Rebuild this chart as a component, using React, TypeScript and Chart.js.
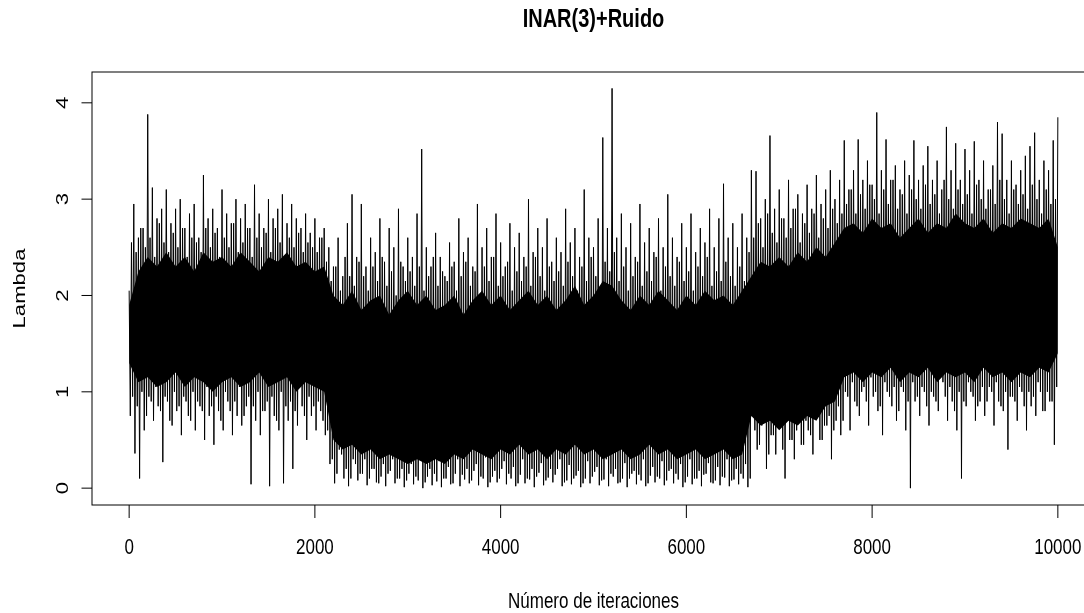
import React, { useEffect, useRef } from "react";
import { Chart, registerables } from "chart.js";

Chart.register(...registerables);

const titleText = "INAR(3)+Ruido";
const xTitle = "Número de iteraciones";
const yTitle = "Lambda";
const xTicks = [0, 2000, 4000, 6000, 8000, 10000];
const yTicks = [0, 1, 2, 3, 4];

// dense core of the trace, every 100 iterations (0 .. 10000)
const CORE_STEP = 100;
const coreHi = [
  1.9, 2.25, 2.4, 2.3, 2.45, 2.3, 2.4, 2.25, 2.45, 2.35,
  2.4, 2.3, 2.45, 2.35, 2.25, 2.4, 2.35, 2.45, 2.3, 2.35,
  2.25, 2.3, 2.0, 1.9, 2.05, 1.85, 1.95, 2.0, 1.8, 1.95,
  2.05, 1.9, 2.0, 1.85, 1.9, 2.0, 1.8, 1.95, 2.05, 1.9,
  2.0, 1.85, 1.95, 2.05, 1.9, 2.0, 1.85, 1.95, 2.1, 1.9,
  2.0, 2.15, 2.1, 1.95, 1.85, 2.0, 1.9, 2.05, 1.95, 1.85,
  2.0, 1.9, 2.05, 1.95, 2.0, 1.9, 2.05, 2.2, 2.35, 2.3,
  2.4, 2.3, 2.45, 2.35, 2.5, 2.4, 2.55, 2.7, 2.75, 2.65,
  2.8, 2.7, 2.75, 2.6, 2.7, 2.8, 2.65, 2.75, 2.7, 2.85,
  2.75, 2.7, 2.8, 2.65, 2.75, 2.7, 2.8, 2.75, 2.7, 2.8,
  2.5,
];
const coreLo = [
  1.3, 1.1, 1.15, 1.05, 1.1, 1.2, 1.05, 1.15, 1.1, 1.0,
  1.1, 1.15, 1.05, 1.1, 1.2, 1.05, 1.1, 1.15, 1.0, 1.1,
  1.05, 1.0, 0.5, 0.4, 0.45, 0.35, 0.4, 0.3, 0.35, 0.3,
  0.25, 0.3, 0.25, 0.3, 0.25, 0.35, 0.3, 0.4, 0.35, 0.3,
  0.4, 0.35, 0.45, 0.35, 0.4, 0.3, 0.4, 0.35, 0.45, 0.35,
  0.4, 0.3, 0.35, 0.4, 0.3, 0.35, 0.45, 0.35, 0.4, 0.3,
  0.35, 0.4, 0.3, 0.35, 0.4, 0.3, 0.35, 0.75, 0.65, 0.7,
  0.6, 0.7, 0.65, 0.75, 0.7, 0.85, 0.9, 1.15, 1.2, 1.1,
  1.2, 1.15, 1.25, 1.1, 1.2, 1.15, 1.25, 1.1, 1.2, 1.15,
  1.2, 1.1, 1.25, 1.15, 1.2, 1.1, 1.2, 1.15, 1.25, 1.2,
  1.4,
];

// large local maxima (iterations 0, 50, ..., 10000)
const traceHi = [
  2.05, 2.95, 2.6, 2.7, 3.88, 3.12, 2.8, 2.9, 3.1, 2.75,
  2.9, 3.0, 2.7, 2.85, 2.95, 2.6, 3.25, 2.8, 2.9, 2.7,
  3.1, 2.85, 2.75, 3.0, 2.8, 2.95, 2.7, 3.15, 2.85, 2.7,
  3.0, 2.8, 2.9, 3.05, 2.75, 2.95, 2.8, 2.7, 2.85, 2.65,
  2.8, 2.6, 2.7, 2.5, 2.3, 2.6, 2.2, 2.75, 3.05, 2.4,
  2.95, 2.3, 2.6, 2.45, 2.8, 2.35, 2.7, 2.5, 2.9, 2.3,
  2.6, 2.4, 2.85, 3.52, 2.5, 2.3, 2.65, 2.4, 2.2, 2.55,
  2.35, 2.8, 2.45, 2.6, 2.3, 2.95, 2.5, 2.7, 2.4, 2.85,
  2.55, 2.3, 2.75, 2.5, 2.65, 2.4, 3.0, 2.45, 2.7, 2.5,
  2.8, 2.35, 2.6, 2.45, 2.9, 2.55, 2.7, 2.4, 3.1, 2.6,
  2.5, 2.8, 3.64, 2.7, 4.15, 2.6, 2.85, 2.5, 2.75, 2.4,
  2.95, 2.55, 2.7, 2.45, 2.8, 2.5, 3.05, 2.6, 2.4, 2.75,
  2.5, 2.85, 2.45, 2.7, 2.55, 2.9, 2.5, 2.8, 3.16, 2.6,
  2.75, 2.5, 2.85, 2.6, 3.3, 3.29, 2.8, 3.0, 3.66, 2.9,
  3.1, 2.8, 3.2, 2.9, 3.05, 2.85, 3.15, 2.9, 3.25, 2.95,
  3.1, 3.3, 3.0, 3.2, 3.61, 3.1, 3.3, 3.62, 3.2, 3.4,
  3.15, 3.9, 3.3, 3.62, 3.2, 3.35, 3.1, 3.4, 3.25, 3.61,
  3.2, 3.35, 3.55, 3.2, 3.4, 3.1, 3.75, 3.3, 3.58, 3.2,
  3.52, 3.3, 3.6, 3.2, 3.4, 3.1, 3.35, 3.8, 3.68, 3.2,
  3.4, 3.15, 3.3, 3.45, 3.55, 3.69, 3.2, 3.4, 3.3, 3.61,
  3.85,
];
// large local minima (iterations 12.5, 62.5, ...)
const traceLo = [
  0.75, 0.36, 0.1, 0.6, 0.95, 0.7, 0.85, 0.27, 0.9, 0.65,
  0.8, 0.55, 0.9, 0.7, 0.6, 0.85, 0.5, 0.75, 0.45, 0.8,
  0.6, 0.9, 0.55, 0.75, 0.65, 0.85, 0.04, 0.7, 0.55, 0.8,
  0.02, 0.75, 0.6, 0.05, 0.7, 0.2, 0.65, 0.85, 0.5, 0.75,
  0.6, 0.8, 0.55, 0.25, 0.05, 0.4, 0.1, 0.02, 0.3, 0.08,
  0.15, 0.03, 0.2, 0.06, 0.12, 0.02, 0.18, 0.05, 0.1, 0.01,
  0.15, 0.04, 0.08, 0.0, 0.12, 0.03, 0.07, 0.01, 0.1, 0.04,
  0.15, 0.02, 0.09, 0.05, 0.18, 0.03, 0.1, 0.01, 0.12, 0.06,
  0.2, 0.04, 0.1, 0.02, 0.14, 0.05, 0.09, 0.01, 0.16, 0.03,
  0.11, 0.06, 0.2, 0.02, 0.08, 0.04, 0.13, 0.01, 0.1, 0.05,
  0.17, 0.03, 0.09, 0.02, 0.12, 0.05, 0.1, 0.01, 0.15, 0.04,
  0.08, 0.02, 0.13, 0.06, 0.1, 0.03, 0.18, 0.05, 0.09, 0.01,
  0.12, 0.04, 0.1, 0.02, 0.15, 0.06, 0.08, 0.03, 0.11, 0.02,
  0.09, 0.04, 0.1, 0.01, 0.8, 0.4, 0.65, 0.2, 0.55, 0.35,
  0.7, 0.1, 0.5, 0.3, 0.75, 0.45, 0.6, 0.35, 0.8, 0.5,
  0.65, 0.3, 0.7, 0.55, 1.0, 0.6, 0.9, 0.75, 1.05, 0.65,
  0.95, 0.8, 0.55, 1.0, 0.85, 0.7, 1.05, 0.6, 0.0, 0.9,
  0.75, 1.0, 0.65, 0.95, 0.8, 1.1, 0.7, 0.9, 0.6, 0.1,
  0.85, 1.0, 0.7, 0.9, 0.75, 1.05, 0.65, 0.9, 0.8, 0.4,
  0.95, 0.7, 1.0, 0.6, 0.85, 0.75, 1.0, 0.8, 0.9, 0.45,
];
// moderate local maxima (iterations 25, 75, ...)
const traceHi2 = [
  2.55, 2.45, 2.7, 2.5, 2.6, 2.4, 2.75, 2.55, 2.45, 2.65,
  2.5, 2.7, 2.4, 2.6, 2.55, 2.45, 2.7, 2.5, 2.65, 2.4,
  2.6, 2.5, 2.75, 2.45, 2.55, 2.7, 2.4, 2.6, 2.5, 2.65,
  2.45, 2.7, 2.55, 2.4, 2.6, 2.5, 2.65, 2.45, 2.55, 2.5,
  2.45, 2.6, 2.35, 2.15, 2.3, 2.05, 2.4, 2.2, 2.1, 2.35,
  2.2, 2.05, 2.3, 2.15, 2.4, 2.1, 2.25, 2.0, 2.35, 2.15,
  2.25, 2.1, 2.3, 2.05, 2.2, 2.4, 2.1, 2.25, 2.15, 2.3,
  2.05, 2.2, 2.35, 2.1, 2.25, 2.0, 2.3, 2.15, 2.4, 2.1,
  2.2, 2.35, 2.05, 2.25, 2.15, 2.3, 2.1, 2.4, 2.2, 2.05,
  2.3, 2.15, 2.25, 2.1, 2.35, 2.2, 2.05, 2.3, 2.15, 2.4,
  2.2, 2.1, 2.35, 2.25, 2.45, 2.15, 2.3, 2.05, 2.2, 2.35,
  2.1, 2.25, 2.15, 2.4, 2.05, 2.3, 2.2, 2.1, 2.35, 2.15,
  2.25, 2.05, 2.3, 2.2, 2.4, 2.1, 2.25, 2.15, 2.35, 2.2,
  2.1, 2.3, 2.15, 2.45, 2.6, 2.75, 2.5, 2.85, 2.65, 2.55,
  2.8, 2.6, 2.7, 2.9, 2.55, 2.75, 2.65, 2.85, 2.6, 2.8,
  2.7, 2.9, 2.75, 2.85, 2.95, 3.1, 2.85, 3.05, 2.9, 3.15,
  3.0, 2.85, 3.1, 2.95, 3.2, 2.9, 3.05, 2.85, 3.1, 3.0,
  2.9, 3.15, 2.95, 3.05, 2.85, 3.2, 3.0, 2.9, 3.1, 2.95,
  3.05, 2.85, 3.15, 3.0, 2.9, 3.1, 2.95, 3.2, 3.0, 2.85,
  3.1, 2.95, 3.05, 2.9, 3.15, 3.0, 2.85, 3.1, 2.95, 3.0,
];
// moderate local minima (iterations 37.5, 87.5, ...)
const traceLo2 = [
  0.95, 0.85, 1.0, 0.75, 0.9, 1.05, 0.8, 0.95, 0.7, 1.0,
  0.85, 0.95, 0.75, 1.0, 0.9, 0.8, 1.05, 0.85, 0.95, 0.7,
  1.0, 0.8, 0.9, 1.05, 0.75, 0.95, 0.85, 1.0, 0.8, 0.9,
  0.95, 0.7, 1.0, 0.85, 0.9, 0.8, 1.05, 0.75, 0.95, 0.85,
  0.9, 0.7, 0.6, 0.3, 0.15, 0.35, 0.2, 0.1, 0.25, 0.15,
  0.3, 0.1, 0.2, 0.05, 0.25, 0.15, 0.3, 0.1, 0.2, 0.08,
  0.25, 0.12, 0.3, 0.06, 0.2, 0.15, 0.28, 0.1, 0.22, 0.05,
  0.3, 0.14, 0.2, 0.08, 0.25, 0.12, 0.32, 0.06, 0.18, 0.1,
  0.28, 0.15, 0.22, 0.05, 0.3, 0.1, 0.2, 0.12, 0.26, 0.08,
  0.2, 0.14, 0.3, 0.06, 0.24, 0.1, 0.18, 0.05, 0.28, 0.12,
  0.22, 0.08, 0.3, 0.15, 0.2, 0.06, 0.26, 0.1, 0.18, 0.14,
  0.3, 0.05, 0.22, 0.12, 0.28, 0.08, 0.2, 0.15, 0.25, 0.06,
  0.3, 0.1, 0.18, 0.14, 0.26, 0.05, 0.22, 0.12, 0.3, 0.08,
  0.2, 0.15, 0.25, 0.1, 0.6, 0.45, 0.7, 0.35, 0.55, 0.65,
  0.4, 0.75, 0.5, 0.6, 0.45, 0.7, 0.55, 0.8, 0.5, 0.65,
  0.75, 0.6, 0.85, 0.7, 0.95, 1.1, 0.85, 1.0, 0.9, 1.15,
  1.0, 0.85, 1.1, 0.95, 1.05, 0.8, 1.0, 0.9, 1.1, 0.95,
  1.05, 0.85, 1.0, 0.9, 1.15, 0.95, 1.05, 0.8, 1.0, 0.9,
  1.1, 0.95, 0.85, 1.05, 0.9, 1.0, 1.1, 0.85, 1.0, 0.95,
  0.9, 1.05, 0.85, 1.0, 0.95, 1.1, 0.8, 1.0, 0.9, 1.05,
];
const HI_STEP = 50;

const W = 1100;
const H = 613;
const SY = 1.3; // vertical stretch of the text
const FONT = '"Liberation Sans", Arial, sans-serif';

function drawText(ctx: CanvasRenderingContext2D, text: string, x: number, y: number, font: string, rotate: boolean) {
  ctx.save();
  ctx.translate(x, y);
  ctx.scale(1, SY);
  if (rotate) ctx.rotate(-Math.PI / 2);
  ctx.font = font;
  ctx.fillStyle = "#000";
  ctx.textAlign = "center";
  ctx.textBaseline = "alphabetic";
  ctx.fillText(text, 0, 0);
  ctx.restore();
}

const rPlot = {
  id: "rplot",
  afterDraw(chart: any) {
    const { ctx, chartArea: a, scales } = chart;
    const x = scales.x;
    const y = scales.y;
    ctx.save();
    ctx.strokeStyle = "#000";
    ctx.lineWidth = 1;
    ctx.strokeRect(a.left, a.top, a.right - a.left, a.bottom - a.top);
    ctx.beginPath();
    for (const t of xTicks) {
      const px = x.getPixelForValue(t);
      ctx.moveTo(px, a.bottom);
      ctx.lineTo(px, a.bottom + 13);
    }
    for (const t of yTicks) {
      const py = y.getPixelForValue(t);
      ctx.moveTo(a.left, py);
      ctx.lineTo(a.left - 10.5, py);
    }
    ctx.stroke();
    const f = "17px " + FONT;
    for (const t of xTicks) drawText(ctx, String(t), x.getPixelForValue(t), a.bottom + 49, f, false);
    for (const t of yTicks) drawText(ctx, String(t), 67.5, y.getPixelForValue(t), f, true);
    drawText(ctx, titleText, (a.left + a.right) / 2, 26.7, "bold 20px " + FONT, false);
    drawText(ctx, xTitle, (a.left + a.right) / 2, a.bottom + 103, f, false);
    drawText(ctx, yTitle, 25, (a.top + a.bottom) / 2, f, true);
    ctx.restore();
  },
};

export default function App() {
  const ref = useRef<HTMLCanvasElement | null>(null);
  useEffect(() => {
    if (!ref.current) return;
    const trace: { x: number; y: number }[] = [];
    traceHi.forEach((v, i) => {
      const base = i * HI_STEP;
      trace.push({ x: base, y: v });
      if (i < traceLo.length) {
        trace.push({ x: base + HI_STEP * 0.25, y: traceLo[i] });
        trace.push({ x: base + HI_STEP * 0.5, y: traceHi2[i] });
        trace.push({ x: base + HI_STEP * 0.75, y: traceLo2[i] });
      }
    });
    const lo = coreLo.map((v, i) => ({ x: i * CORE_STEP, y: v }));
    const hi = coreHi.map((v, i) => ({ x: i * CORE_STEP, y: v }));
    const chart = new Chart(ref.current, {
      type: "line",
      data: {
        datasets: [
          { data: lo, borderWidth: 0, pointRadius: 0, fill: false, borderColor: "#000" },
          { data: hi, borderWidth: 0, pointRadius: 0, fill: "-1", backgroundColor: "#000", borderColor: "#000" },
          { data: trace, borderWidth: 1, pointRadius: 0, fill: false, borderColor: "#000", tension: 0 },
        ],
      },
      options: {
        animation: false,
        responsive: false,
        events: [],
        layout: { padding: { left: 92, top: 72, right: 5, bottom: 108 } },
        plugins: { legend: { display: false }, tooltip: { enabled: false }, title: { display: false } },
        scales: {
          x: { type: "linear", min: -400, max: 10400, display: false },
          y: { type: "linear", min: -0.175, max: 4.32, display: false },
        },
      },
      plugins: [rPlot],
    });
    return () => chart.destroy();
  }, []);
  return (
    <div style={{ position: "fixed", left: 0, top: 0, width: 1084, height: 613, overflow: "hidden", background: "#fff" }}>
      <canvas ref={ref} width={W} height={H} style={{ width: W, height: H, display: "block" }} />
    </div>
  );
}
